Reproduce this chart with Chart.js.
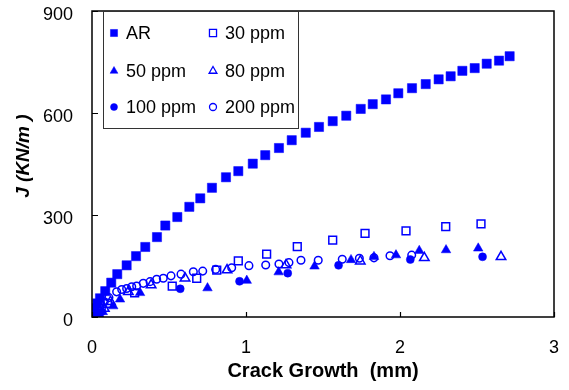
<!DOCTYPE html>
<html>
<head>
<meta charset="utf-8">
<script src="https://cdn.jsdelivr.net/npm/chart.js@4.4.0/dist/chart.umd.min.js"></script>
<style>
  html, body { margin: 0; padding: 0; background: #fff; }
  #wrap { width: 569px; height: 390px; position: relative; }
</style>
</head>
<body>
<div id="wrap"><canvas id="c" width="569" height="390"></canvas></div>
<script>
// ---- Data (crack growth in mm, J in kN/m) ----
const xTicks = [0, 1, 2, 3];
const yTicks = [0, 300, 600, 900];

const arX = [0, 0.006, 0.018, 0.034, 0.052, 0.086, 0.125, 0.164, 0.225, 0.286, 0.346, 0.422, 0.476, 0.554, 0.632, 0.703, 0.779, 0.870, 0.950, 1.044, 1.125, 1.214, 1.297, 1.388, 1.474, 1.563, 1.651, 1.745, 1.823, 1.909, 1.989, 2.078, 2.167, 2.251, 2.329, 2.405, 2.485, 2.563, 2.643, 2.712];
const arY = [0, 12, 26, 40, 55, 76, 101, 126, 152, 179, 206, 235, 269, 294, 324, 349, 380, 411, 429, 451, 476, 497, 520, 542, 559, 576, 592, 612, 626, 640, 658, 673, 685, 699, 708, 724, 732, 745, 754, 767];

const p30X = [0, 0.03, 0.06, 0.10, 0.277, 0.521, 0.680, 0.810, 0.950, 1.134, 1.333, 1.563, 1.773, 2.039, 2.297, 2.526];
const p30Y = [0, 10, 25, 40, 71, 91, 114, 138, 165, 185, 207, 226, 246, 253, 266, 274];

const p50X = [0, 0.03, 0.07, 0.138, 0.182, 0.312, 0.750, 1.005, 1.212, 1.445, 1.682, 1.831, 1.974, 2.125, 2.299, 2.508];
const p50Y = [0, 5, 15, 32, 52, 71, 85, 107, 132, 149, 168, 177, 182, 195, 197, 202];

const p80X = [0, 0.04, 0.08, 0.12, 0.236, 0.384, 0.604, 0.877, 1.260, 1.742, 2.158, 2.656];
const p80Y = [0, 10, 25, 45, 74, 94, 114, 138, 153, 164, 174, 177];

const p100X = [0, 0.03, 0.06, 0.573, 0.958, 1.271, 1.601, 2.067, 2.536];
const p100Y = [0, 5, 15, 83, 105, 129, 152, 169, 177];

const p200X = [0, 0.02, 0.05, 0.08, 0.11, 0.160, 0.193, 0.225, 0.258, 0.290, 0.333, 0.377, 0.420, 0.463, 0.513, 0.578, 0.658, 0.719, 0.803, 0.907, 1.019, 1.128, 1.214, 1.279, 1.357, 1.469, 1.625, 1.736, 1.831, 1.935, 2.076];
const p200Y = [0, 12, 30, 45, 57, 74, 81, 84, 89, 91, 99, 104, 111, 114, 121, 126, 133, 135, 140, 145, 151, 153, 156, 160, 167, 167, 170, 173, 174, 180, 182];

const seriesNames = ['AR', '30 ppm', '50 ppm', '80 ppm', '100 ppm', '200 ppm'];

// ---- Build ----
const BLUE = '#0000FF';
function pts(xs, ys) { return xs.map((x, i) => ({ x: x, y: ys[i] })); }

function ds(label, data, style, filled, radius) {
  return {
    label: label,
    data: data,
    showLine: false,
    pointStyle: style,
    pointRadius: radius,
    pointHoverRadius: radius,
    pointBorderWidth: filled ? 0.5 : 1.5,
    pointBorderColor: BLUE,
    pointBackgroundColor: filled ? BLUE : 'rgba(255,255,255,0)',
    legendRadius: style === 'circle' ? 3.5 : (style === 'triangle' ? 4.5 : 5),
    legendFilled: filled
  };
}

const datasets = [
  ds(seriesNames[0], pts(arX, arY), 'rect', true, 6.5),
  ds(seriesNames[1], pts(p30X, p30Y), 'rect', false, 5.5),
  ds(seriesNames[2], pts(p50X, p50Y), 'triangle', true, 5.5),
  ds(seriesNames[3], pts(p80X, p80Y), 'triangle', false, 5.5),
  ds(seriesNames[4], pts(p100X, p100Y), 'circle', true, 4),
  ds(seriesNames[5], pts(p200X, p200Y), 'circle', false, 3.8)
];

const FONT = "'Liberation Sans', Arial, sans-serif";

const framePlugin = {
  id: 'frame',
  afterDatasetsDraw(chart) {
    const ctx = chart.ctx;
    const a = chart.chartArea;
    const xs = chart.scales.x, ys = chart.scales.y;
    ctx.save();
    ctx.strokeStyle = '#000';
    ctx.lineWidth = 1.5;
    ctx.strokeRect(a.left, a.top, a.right - a.left, a.bottom - a.top);
    ctx.lineWidth = 1.2;
    ctx.beginPath();
    xTicks.forEach(v => {
      const px = Math.round(xs.getPixelForValue(v)) + 0.5;
      ctx.moveTo(px, a.bottom); ctx.lineTo(px, a.bottom - 5);
    });
    yTicks.forEach(v => {
      const py = Math.round(ys.getPixelForValue(v)) + 0.5;
      ctx.moveTo(a.left, py); ctx.lineTo(a.left + 6, py);
    });
    ctx.stroke();
    ctx.restore();
  },
  afterDraw(chart) {
    // Legend box inside plot area
    const ctx = chart.ctx;
    const bx = 103, by = 11, bw = 195, bh = 117;
    ctx.save();
    ctx.fillStyle = '#fff';
    ctx.fillRect(bx, by, bw, bh);
    ctx.strokeStyle = '#333';
    ctx.lineWidth = 1;
    ctx.strokeRect(bx + 0.5, by + 0.5, bw, bh);
    const cols = [114, 213];
    const rows = [33, 71, 107];
    ctx.font = "18px " + FONT;
    ctx.textBaseline = 'middle';
    ctx.textAlign = 'left';
    chart.data.datasets.forEach((d, i) => {
      const cx = cols[i % 2], cy = rows[Math.floor(i / 2)];
      ctx.fillStyle = d.legendFilled ? BLUE : '#fff';
      ctx.strokeStyle = BLUE;
      ctx.lineWidth = d.legendFilled ? 0.5 : 1.3;
      Chart.helpers.drawPoint(ctx, {
        pointStyle: d.pointStyle, radius: d.legendRadius, rotation: 0, borderWidth: ctx.lineWidth
      }, cx, cy);
      ctx.fillStyle = '#000';
      ctx.fillText(d.label, cx + 12, cy + 1);
    });
    ctx.restore();
  }
};

new Chart(document.getElementById('c'), {
  type: 'scatter',
  data: { datasets: datasets },
  options: {
    responsive: false,
    animation: false,
    devicePixelRatio: 1,
    layout: { padding: { top: 11, right: 15, left: 0, bottom: 0 } },
    plugins: { legend: { display: false }, tooltip: { enabled: false } },
    scales: {
      x: {
        type: 'linear', min: 0, max: 3,
        afterBuildTicks(s) { s.ticks = xTicks.map(v => ({ value: v })); },
        afterFit(s) { s.height = 73; s.paddingLeft = 0; s.paddingRight = 0; },
        grid: { display: false, drawTicks: false },
        border: { display: false },
        ticks: { color: '#000', padding: 20, font: { family: FONT, size: 18 } },
        title: { display: true, text: 'Crack Growth  (mm)', color: '#000',
                 font: { family: FONT, size: 20, weight: 'bold' }, padding: { top: 0, bottom: 7 } }
      },
      y: {
        type: 'linear', min: 0, max: 900,
        afterBuildTicks(s) { s.ticks = yTicks.map(v => ({ value: v })); },
        afterFit(s) { s.width = 92; s.paddingTop = 0; s.paddingBottom = 0; },
        grid: { display: false, drawTicks: false },
        border: { display: false },
        ticks: { color: '#000', padding: 19, labelOffset: 4, font: { family: FONT, size: 18 } },
        title: { display: true, text: '   J (KN/m )', color: '#000',
                 font: { family: FONT, size: 19, weight: 'bold', style: 'italic' }, padding: { top: 12, bottom: 0 } }
      }
    }
  },
  plugins: [framePlugin]
});
</script>
</body>
</html>
